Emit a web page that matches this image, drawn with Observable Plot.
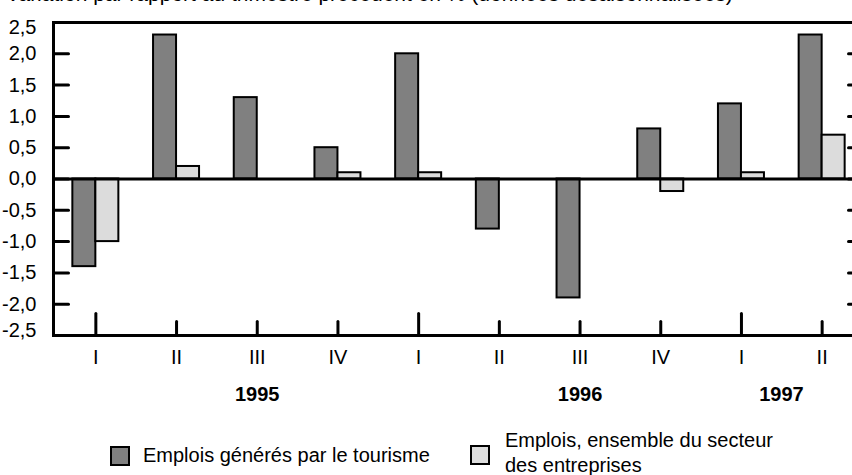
<!DOCTYPE html>
<html><head><meta charset="utf-8">
<script src="https://cdn.jsdelivr.net/npm/d3@7"></script>
<script src="https://cdn.jsdelivr.net/npm/@observablehq/plot@0.6"></script>
<style>
html,body{margin:0;padding:0;width:852px;height:475px;overflow:hidden;background:#fff;font-family:"Liberation Sans",Arial,sans-serif;color:#000;}
#wrap{position:relative;width:852px;height:475px;overflow:hidden;}
#title{position:absolute;left:6px;top:-17px;font-size:21px;line-height:21px;white-space:nowrap;}
#chart{position:absolute;left:0;top:0;width:870px;}
#chart svg{max-width:none !important;}
.leg{position:absolute;font-size:20px;line-height:25px;white-space:nowrap;}
.sw{position:absolute;width:16px;height:16px;border:2px solid #000;}
</style></head>
<body><div id="wrap">
<div id="chart"></div>
<div id="title">Variation par rapport au trimestre précédent en % (données désaisonnalisées)</div>
<div class="sw" style="left:110px;top:446px;background:#808080"></div>
<div class="leg" style="left:143px;top:443px">Emplois générés par le tourisme</div>
<div class="sw" style="left:470px;top:445px;background:#dcdcdc"></div>
<div class="leg" style="left:505px;top:428px">Emplois, ensemble du secteur<br>des entreprises</div>
</div>
<script>
const years = ["1995","1995","1995","1995","1996","1996","1996","1996","1997","1997"];
const quarters = ["I","II","III","IV","I","II","III","IV","I","II"];
const tourisme = [-1.4, 2.3, 1.3, 0.5, 2.0, -0.8, -1.9, 0.8, 1.2, 2.3];
const entreprises = [-1.0, 0.2, 0.0, 0.1, 0.1, 0.0, 0.0, -0.2, 0.1, 0.7];
const yTicks = [-2.5, -2.0, -1.5, -1.0, -0.5, 0.0, 0.5, 1.0, 1.5, 2.0, 2.5];
const yearLabels = ["1995", "1996", "1997"];

const data = quarters.map((q, i) => ({key: years[i] + "-" + q, q, year: years[i], tourisme: tourisme[i], entreprises: entreprises[i]}));
const keys = data.map(d => d.key);
const firstQ = data.filter(d => d.q === "I").map(d => d.key);
const otherQ = data.filter(d => d.q !== "I").map(d => d.key);
const innerTicks = yTicks.slice(1, -1);
const fmt = d => d.toFixed(1).replace(".", ",");
const line = {draw(ctx, l) { ctx.moveTo(0, 0); ctx.lineTo(0, -l); }};

const chart = Plot.plot({
  width: 870, height: 475,
  marginTop: 22, marginBottom: 140, marginLeft: 53, marginRight: 7,
  style: {fontFamily: "'Liberation Sans', Arial, sans-serif", fontSize: "20px", background: "#fff", overflow: "visible", maxWidth: "none"},
  x: {axis: null, domain: keys, range: [55, 862], paddingInner: 0.43, paddingOuter: 0.215, round: false},
  y: {axis: null, domain: [-2.5, 2.5]},
  marks: [
    Plot.barY(data, {x: "key", y: "tourisme", fill: "#808080", stroke: "#000", strokeWidth: 2, insetRight: 23}),
    Plot.barY(data, {x: "key", y: "entreprises", fill: "#dcdcdc", stroke: "#000", strokeWidth: 2, insetLeft: 23}),
    Plot.ruleY([0], {stroke: "#000", strokeWidth: 3}),
    Plot.frame({stroke: "#000", strokeWidth: 3}),
    Plot.vector(innerTicks, {y: d => d, frameAnchor: "left", rotate: 90, length: 15, anchor: "start", shape: line, stroke: "#000", strokeWidth: 3}),
    Plot.vector(innerTicks, {y: d => d, frameAnchor: "right", rotate: -90, length: 15, anchor: "start", shape: line, stroke: "#000", strokeWidth: 3}),
    Plot.vector(firstQ, {x: d => d, frameAnchor: "bottom", rotate: 0, length: 22, anchor: "start", shape: line, stroke: "#000", strokeWidth: 3}),
    Plot.vector(otherQ, {x: d => d, frameAnchor: "bottom", rotate: 0, length: 14, anchor: "start", shape: line, stroke: "#000", strokeWidth: 3}),
    Plot.text(innerTicks, {y: d => d, text: fmt, frameAnchor: "left", dx: -17, textAnchor: "end", fill: "#000"}),
    Plot.text(yTicks.slice(-1), {y: d => d, text: fmt, frameAnchor: "left", dx: -17, dy: 5, textAnchor: "end", fill: "#000"}),
    Plot.text(yTicks.slice(0, 1), {y: d => d, text: fmt, frameAnchor: "left", dx: -17, dy: -5, textAnchor: "end", fill: "#000"}),
    Plot.text(data, {x: "key", text: "q", frameAnchor: "bottom", dy: 28, fill: "#000"}),
    Plot.text(yearLabels.slice(0, 2), {x: d => d + "-III", text: d => d, frameAnchor: "bottom", dy: 65, fontWeight: "bold", fill: "#000"}),
    Plot.text(yearLabels.slice(2), {x: d => d + "-I", text: d => d, frameAnchor: "bottom", dy: 65, dx: 40, fontWeight: "bold", fill: "#000"})
  ]
});
document.getElementById("chart").appendChild(chart);
</script>
</body></html>
